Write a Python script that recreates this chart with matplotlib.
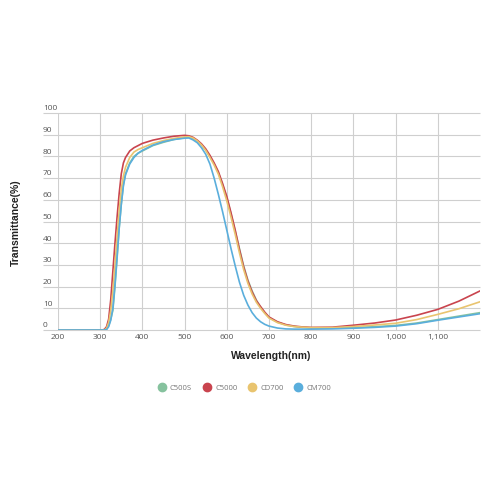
import numpy as np
import matplotlib
matplotlib.use("Agg")
import matplotlib.pyplot as plt

# wavelength grid (nm) shared by all four curves
wl = [200, 300, 305, 310, 315, 320, 325, 330, 335, 340, 345, 350, 355, 360,
      370, 380, 390, 400, 425, 450, 475, 500, 510, 520, 530, 540, 550, 560,
      570, 580, 590, 600, 610, 620, 630, 640, 650, 660, 670, 680, 690, 700,
      720, 740, 760, 780, 800, 850, 900, 950, 1000, 1050, 1100, 1150, 1200]

c500s = [0, 0, 0, 0, 0.3, 2, 5, 9, 20, 33, 47, 58, 67, 72,
         77, 80, 81.5, 82.5, 85, 86.5, 87.8, 88.6, 88.8, 88.3, 87, 85.3, 83, 80,
         76.5, 72.5, 67, 61, 53.5, 45.5, 37.5, 29.5, 23, 18, 13.8, 10.5, 8, 5.8,
         3.6, 2.3, 1.6, 1.2, 1.0, 0.9, 1.1, 1.5, 2.1, 3.2, 4.8, 6.4, 8]

c5000 = [0, 0, 0, 0.3, 1.5, 5, 14, 27, 40, 52, 63, 72, 77, 79.5,
         82.5, 84, 85, 86, 87.5, 88.5, 89.3, 89.7, 89.5, 88.8, 87.5, 85.8, 83.5, 80.5,
         77, 73, 67.5, 61.5, 54, 46, 37, 29, 22.5, 17.5, 13.5, 10.8, 8.2, 6,
         3.8, 2.5, 1.8, 1.4, 1.2, 1.3, 2.2, 3.2, 4.6, 6.8, 9.5, 13.3, 18]

cd700 = [0, 0, 0, 0, 0.8, 3.5, 9, 18, 30, 43, 55, 65, 71, 75,
         79.5, 82, 83.2, 84, 86, 87.3, 88.3, 89, 89.1, 88.5, 87.2, 85.3, 82.8, 79.5,
         76, 71.8, 66, 59.5, 52, 44, 35.5, 27.8, 21.5, 16.6, 12.8, 10, 7.6, 5.5,
         3.4, 2.2, 1.6, 1.3, 1.1, 1.1, 1.6, 2.3, 3.1, 4.8, 7.2, 9.8, 13]

cm700 = [0, 0, 0, 0, 0.2, 1.5, 4.5, 10, 21, 34, 47, 58, 66.5, 71.5,
         76.5, 79.5, 81.5, 82.8, 85.2, 86.8, 87.8, 88.4, 88.5, 87.6, 86.3, 84, 81, 76.5,
         70, 62.5, 54.5, 46, 37.5, 29.5, 22, 16, 11.5, 8, 5.5, 3.8, 2.6, 1.8,
         0.9, 0.5, 0.4, 0.4, 0.4, 0.5, 0.8, 1.2, 1.8, 2.9, 4.5, 6, 7.5]

names = ["C500S", "C5000", "CD700", "CM700"]
colors = ["#86c29e", "#c9444e", "#e9c46f", "#5aaedc"]
series = [c500s, c5000, cd700, cm700]

xticks = [200, 300, 400, 500, 600, 700, 800, 900, 1000, 1100]
xlabels = ["200", "300", "400", "500", "600", "700", "800", "900", "1,000", "1,100"]
yticks = [0, 10, 20, 30, 40, 50, 60, 70, 80, 90, 100]

fig = plt.figure(figsize=(5, 5), dpi=100)
ax = fig.add_axes([0.116, 0.34, 0.844, 0.434])

grid_c = "#cfcfcf"
ext = -0.036
ax.hlines(yticks, ext, 1, transform=ax.get_yaxis_transform(), colors=grid_c,
          lw=0.8, clip_on=False, zorder=1)
ax.vlines(xticks, 0, 100, colors=grid_c, lw=0.8, zorder=1)

for vals, col, nm in zip(series, colors, names):
    ax.plot(wl, vals, color=col, lw=1.2, zorder=3, label=nm)

ax.set_xlim(200, 1200)
ax.set_ylim(0, 100)
for s in ax.spines.values():
    s.set_visible(False)
ax.set_xticks([])
ax.set_yticks([])

tick_font = dict(family="Open Sans", size=6, color="#555555")
for y in yticks:
    ax.text(ext, y + 0.3, str(y), transform=ax.get_yaxis_transform(),
            ha="left", va="bottom", **tick_font)
for x, lab in zip(xticks, xlabels):
    ax.text(x, -3.5, lab, ha="center", va="center", **tick_font)

fig.text(0.032, 0.555, "Transmittance(%)", rotation=90, ha="center", va="center",
         family="Liberation Sans", weight="bold", size=7.5, color="#222222")
fig.text(0.542, 0.288, "Wavelength(nm)", ha="center", va="center",
         family="Liberation Sans", weight="bold", size=7.5, color="#222222")

handles = [plt.Line2D([], [], ls="none", marker="o", ms=6, mfc=c, mec=c)
           for c in colors]
fig.legend(handles, names, loc="center", bbox_to_anchor=(0.489, 0.224), ncol=4,
           frameon=False, handletextpad=0.6, columnspacing=1.4, handlelength=1.0,
           prop=dict(family="Open Sans", size=5.5), labelcolor="#777777")

fig.savefig("out.png", dpi=100, facecolor="white")
